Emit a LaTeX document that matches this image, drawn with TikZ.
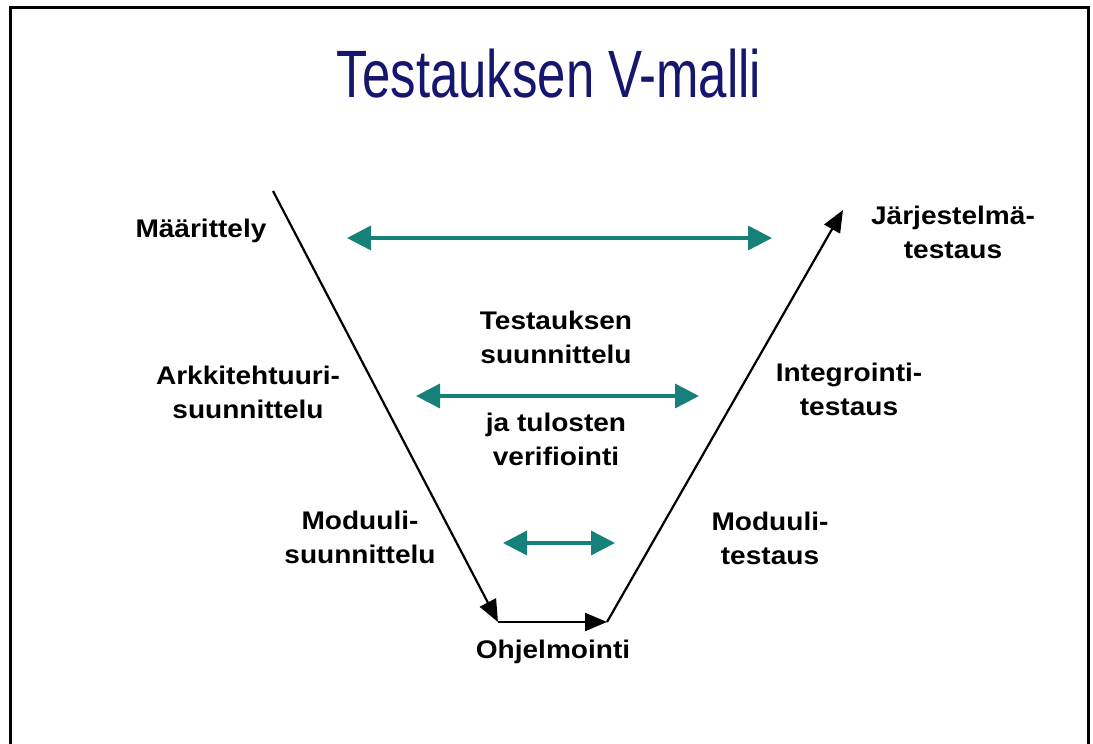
\documentclass[tikz,border=0pt]{standalone}
\usepackage{fontspec}
\newfontfamily\labelfont{Liberation Sans}[FakeStretch=1.1]
\newfontfamily\titlefont{Liberation Sans}[FakeStretch=0.76]
\newcommand{\lbl}{\labelfont\bfseries\fontsize{25.5}{34}\selectfont}
\definecolor{titleblue}{RGB}{22,22,110}
\definecolor{vteal}{RGB}{22,128,122}
\usepackage{tikz}
\usetikzlibrary{arrows.meta}

\begin{document}
\begin{tikzpicture}[x=1pt,y=-1pt,
  phase/.style={font=\lbl,align=center,anchor=base,inner sep=0pt},
  vline/.style={line width=2.2pt,-{Triangle[length=22pt,width=18pt]}},
  link/.style={vteal,line width=3.5pt,{Triangle[length=24pt,width=24pt]}-{Triangle[length=24pt,width=24pt]}}]
\useasboundingbox (0,0) rectangle (1093,744);
\draw[line width=3pt] (10,744) -- (10,7) -- (1088,7) -- (1088,744);
\path (549,97) node[anchor=base,inner sep=0pt,text=titleblue,font=\titlefont\fontsize{67}{70}\selectfont] (title) {Testauksen V-malli};
% V
\coordinate (vtop) at (273,191);
\coordinate (vbl) at (498,622);
\coordinate (vbr) at (607,622);
\coordinate (vtr) at (843,210);
\draw[vline] (vtop) -- (vbl);
\draw[vline] (vbl) -- (vbr);
\draw[vline] (vbr) -- (vtr);
% phases (base = last line)
\path (201,237) node[phase] (maar) {Määrittely};
\path (248,418) node[phase] (arkk) {Arkkitehtuuri-\\suunnittelu};
\path (360,563) node[phase] (modsu) {Moduuli-\\suunnittelu};
\path (553,658) node[phase] (ohj) {Ohjelmointi};
\path (953,258) node[phase] (jarj) {Järjestelmä-\\testaus};
\path (849,415) node[phase] (integ) {Integrointi-\\testaus};
\path (770,564) node[phase] (modte) {Moduuli-\\testaus};
\path (556,363) node[phase] (tsuun) {Testauksen\\suunnittelu};
\path (556,465) node[phase] (tver) {ja tulosten\\verifiointi};
% links
\coordinate (l1a) at (347,238);
\coordinate (l1b) at (772,238);
\coordinate (l2a) at (416,396);
\coordinate (l2b) at (699,396);
\coordinate (l3a) at (503,543);
\coordinate (l3b) at (615,543);
\draw[link] (l1a) -- (l1b);
\draw[link] (l2a) -- (l2b);
\draw[link] (l3a) -- (l3b);
\end{tikzpicture}
\end{document}
